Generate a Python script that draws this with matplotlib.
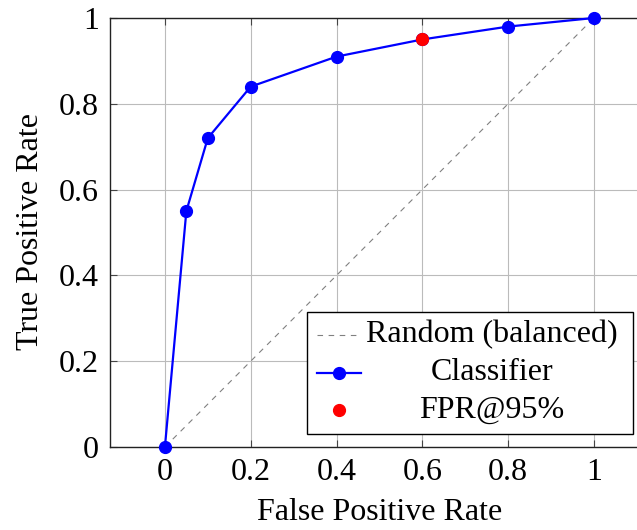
import matplotlib.pyplot as plt
from matplotlib.lines import Line2D
from matplotlib.patches import Rectangle

# ROC curve points
fpr = [0, 0.05, 0.1, 0.2, 0.4, 0.6, 0.8, 1.0]
tpr = [0, 0.55, 0.72, 0.84, 0.91, 0.95, 0.98, 1.0]
random_x = [0, 1]
random_y = [0, 1]
op_fpr = [0.6]
op_tpr = [0.95]
ticks = [0, 0.2, 0.4, 0.6, 0.8, 1]
tick_labels = ["0", "0.2", "0.4", "0.6", "0.8", "1"]
legend_labels = ["Random (balanced)", "Classifier", "FPR@95%"]

plt.rcParams['font.family'] = ['Liberation Serif', 'DejaVu Serif']
plt.rcParams['font.size'] = 23

W, H = 637, 530
fig = plt.figure(figsize=(W / 100, H / 100), dpi=100)

# axes run past the right edge of the figure
left, top, bottom = 110, 18, 447
xmin, xmax = -0.128, 1.2
ppu = 429.0
ax = fig.add_axes([left / W, (H - bottom) / H, (xmax - xmin) * ppu / W, (bottom - top) / H])

ax.plot(random_x, random_y, color='gray', lw=0.8, dashes=(5, 5), zorder=2)
ax.plot(fpr, tpr, color='blue', lw=1.6, marker='o', ms=8.5, zorder=3, clip_on=False)
ax.plot(op_fpr, op_tpr, 'o', color='red', ms=8.5, zorder=4)

ax.set_xlim(xmin, xmax)
ax.set_ylim(0, 1)
ax.set_xticks(ticks)
ax.set_xticklabels(tick_labels)
ax.set_yticks(ticks)
ax.set_yticklabels(tick_labels)
ax.grid(True, color='#bbbbbb', lw=0.8)
ax.set_axisbelow(True)
ax.tick_params(direction='in', length=5, width=0.8, color='#444444', top=True, pad=8)
for s in ax.spines.values():
    s.set_color('#222222')
    s.set_linewidth(1.0)
ax.spines['right'].set_visible(False)

fig.text(380 / W, 1 - 513 / H, "False Positive Rate", ha='center', va='center')
fig.text(30 / W, 1 - 232 / H, "True Positive Rate", ha='center', va='center', rotation=90)

# legend box with centred entries
def fx(px):
    return px / W

def fy(py):
    return 1 - py / H

fig.patches.append(Rectangle((fx(307), fy(434)), (633 - 307) / W, (434 - 312) / H,
                             transform=fig.transFigure, facecolor='white',
                             edgecolor='black', lw=1.0, zorder=10))
rows = [335, 373, 410]
fig.add_artist(Line2D([fx(317), fx(359)], [fy(rows[0])] * 2, color='gray', lw=0.8,
                      dashes=(5, 5), transform=fig.transFigure, zorder=11))
fig.add_artist(Line2D([fx(317), fx(361)], [fy(rows[1])] * 2, color='blue', lw=1.6,
                      transform=fig.transFigure, zorder=11))
fig.add_artist(Line2D([fx(339)], [fy(rows[1])], color='blue', marker='o', ms=8.5,
                      transform=fig.transFigure, zorder=12))
fig.add_artist(Line2D([fx(339)], [fy(rows[2])], color='red', marker='o', ms=8.5,
                      lw=0, transform=fig.transFigure, zorder=12))
for label, r in zip(legend_labels, rows):
    fig.text(fx(492), fy(r), label, ha='center', va='center', zorder=13)

fig.savefig("out.png", dpi=100)
